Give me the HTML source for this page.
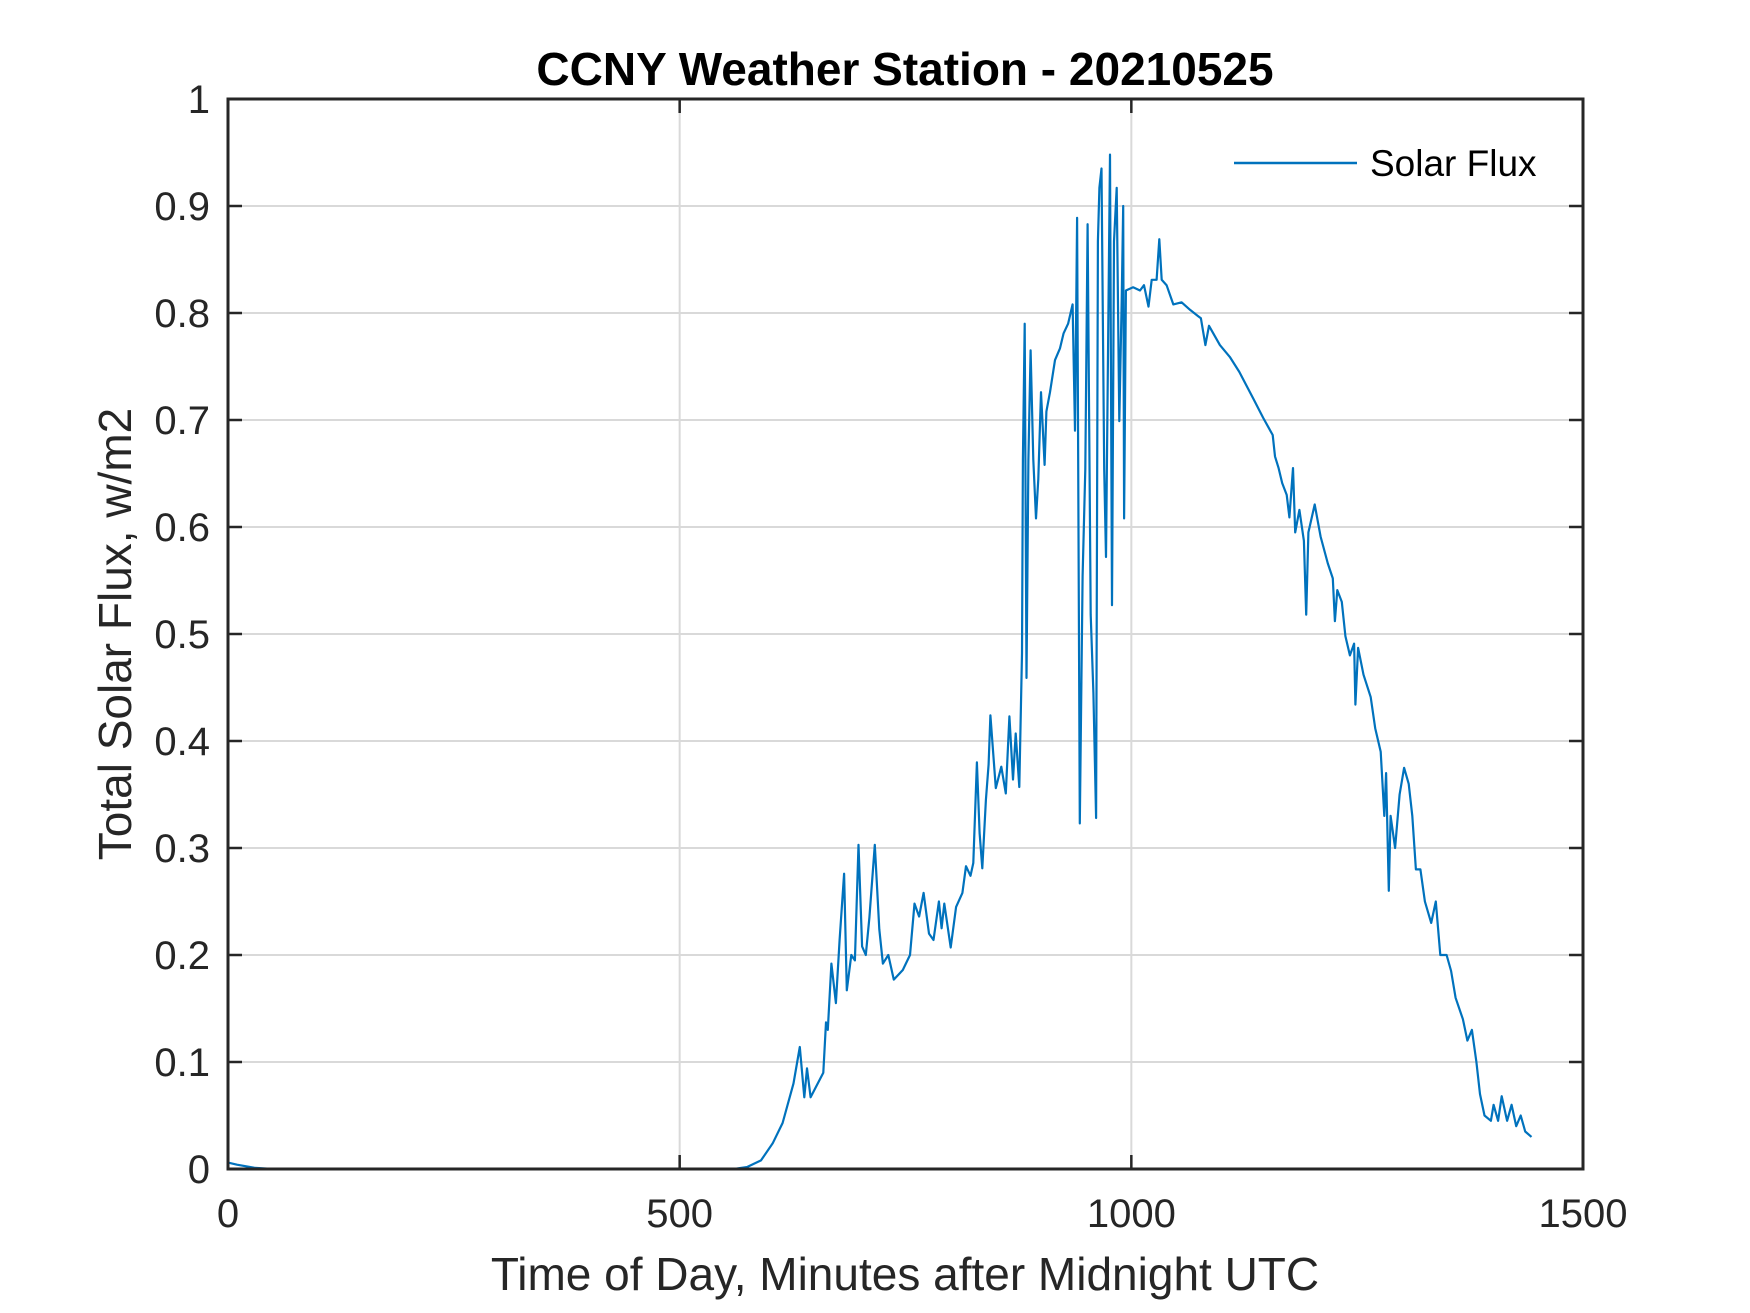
<!DOCTYPE html>
<html>
<head>
<meta charset="utf-8">
<style>
  html,body{margin:0;padding:0;background:#fff;}
  svg{display:block;}
  text{font-family:"Liberation Sans",Arial,sans-serif;fill:#262626;}
</style>
</head>
<body>
<svg id="chart" width="1750" height="1313" viewBox="0 0 1750 1313" xmlns="http://www.w3.org/2000/svg">
  <rect x="0" y="0" width="1750" height="1313" fill="#fff"/>
  <g id="grid"></g>
  <g id="series"></g>
  <rect x="228" y="99" width="1355" height="1070" fill="none" stroke="#262626" stroke-width="3"/>
  <g id="ticks"></g>
  <text x="905" y="85" font-size="46" font-weight="bold" text-anchor="middle" style="fill:#000">CCNY Weather Station - 20210525</text>
  <text x="905" y="1290" font-size="46" text-anchor="middle">Time of Day, Minutes after Midnight UTC</text>
  <text transform="translate(131,634) rotate(-90)" font-size="46" text-anchor="middle">Total Solar Flux, w/m2</text>
  <g>
    <line x1="1234" y1="163" x2="1357" y2="163" stroke="#0072BD" stroke-width="2.5"/>
    <text x="1370" y="176" font-size="37" style="fill:#000">Solar Flux</text>
  </g>
</svg>
<script>
const xTicks = [0, 500, 1000, 1500];
const yTicks = [0, 0.1, 0.2, 0.3, 0.4, 0.5, 0.6, 0.7, 0.8, 0.9, 1];
const yTickLabels = ["0","0.1","0.2","0.3","0.4","0.5","0.6","0.7","0.8","0.9","1"];
const minutes = [0,10,30,50,560,575,590,603,614,626,633,638,641,645,659,662,664,668,673,677,682,685,690,694,698,702,706,710,716,721,725,731,737,747,755,760,765,770,776,781,787,790,793,800,806,813,817,822,825,829,832,835,839,842,844,850,856,861,865,869,872,876,879,880,882,884,886,888.5,891.5,894.5,897,900,904,906,910,915.5,921,925,930,935,937.6,940,943,946,949,951.6,955,958,961,963,964.6,967,970,972,974.5,976.4,978.6,980.8,983.8,986.7,989.3,991,992,994,1002,1009.6,1014,1019,1022.5,1028,1031,1033.6,1039,1046.5,1055.7,1065,1074,1077,1082,1086,1098,1109,1119.5,1135,1146,1156.5,1159,1163,1167,1172,1175,1179,1181.4,1186,1191,1193.6,1196,1203,1209.5,1217.5,1223,1225.4,1228,1233,1237,1242,1246.6,1248,1251,1257,1265,1270,1276,1280,1282,1285,1287,1292,1297,1302,1307,1311,1315,1320,1325,1332,1337,1342,1349,1354,1359,1367,1372,1377,1382,1386,1391,1398,1401,1406,1410,1416,1421,1426,1431,1436,1443];
const flux = [0.006,0.004,0.001,0,0,0.002,0.008,0.024,0.043,0.08,0.114,0.067,0.094,0.067,0.09,0.137,0.13,0.192,0.155,0.214,0.276,0.167,0.2,0.195,0.303,0.208,0.2,0.235,0.303,0.224,0.192,0.2,0.177,0.186,0.2,0.248,0.236,0.258,0.22,0.214,0.25,0.225,0.248,0.207,0.245,0.258,0.283,0.274,0.286,0.38,0.314,0.281,0.345,0.378,0.424,0.356,0.376,0.351,0.423,0.364,0.407,0.357,0.482,0.663,0.79,0.459,0.663,0.765,0.663,0.608,0.645,0.726,0.658,0.708,0.726,0.756,0.767,0.781,0.79,0.808,0.69,0.889,0.323,0.554,0.654,0.883,0.518,0.445,0.328,0.867,0.917,0.935,0.654,0.572,0.79,0.948,0.527,0.867,0.917,0.699,0.812,0.9,0.608,0.821,0.824,0.821,0.826,0.806,0.831,0.831,0.869,0.831,0.826,0.808,0.81,0.803,0.797,0.795,0.77,0.788,0.77,0.759,0.745,0.72,0.702,0.686,0.666,0.655,0.641,0.63,0.609,0.655,0.595,0.616,0.587,0.518,0.595,0.621,0.591,0.566,0.552,0.512,0.541,0.53,0.498,0.48,0.491,0.434,0.487,0.462,0.441,0.412,0.39,0.33,0.37,0.26,0.33,0.3,0.35,0.375,0.36,0.33,0.28,0.28,0.25,0.23,0.25,0.2,0.2,0.185,0.16,0.14,0.12,0.13,0.1,0.07,0.05,0.045,0.06,0.045,0.068,0.045,0.06,0.04,0.05,0.035,0.03];

const NS = "http://www.w3.org/2000/svg";
const L = 228, R = 1583, T = 99, B = 1169;
const xMin = 0, xMax = 1500, yMin = 0, yMax = 1;
function xs(m){ return L + (m - xMin) / (xMax - xMin) * (R - L); }
function ys(v){ return B - (v - yMin) / (yMax - yMin) * (B - T); }
function mk(tag, attrs){ const e = document.createElementNS(NS, tag); for (const k in attrs) e.setAttribute(k, attrs[k]); return e; }

const grid = document.getElementById('grid');
const ticks = document.getElementById('ticks');
const series = document.getElementById('series');

xTicks.forEach(function(t){
  const x = xs(t);
  if (t > xMin && t < xMax) {
    const g = mk('line', {x1:x, y1:T, x2:x, y2:B, stroke:'#d9d9d9', 'stroke-width':2});
    
    
    grid.appendChild(g);
    const t1 = mk('line', {x1:x, y1:B, x2:x, y2:B-14, stroke:'#262626', 'stroke-width':2.5});
    
    
    ticks.appendChild(t1);
    const t2 = mk('line', {x1:x, y1:T, x2:x, y2:T+14, stroke:'#262626', 'stroke-width':2.5});
    
    
    ticks.appendChild(t2);
  }
  const lb = mk('text', {x:x, y:B+58, 'font-size':40, 'text-anchor':'middle'});
  lb.textContent = String(t);
  
  
  ticks.appendChild(lb);
});

yTicks.forEach(function(t, i){
  const y = ys(t);
  if (t > yMin && t < yMax) {
    const g = mk('line', {x1:L, y1:y, x2:R, y2:y, stroke:'#d9d9d9', 'stroke-width':2});
    
    
    grid.appendChild(g);
    const t1 = mk('line', {x1:L, y1:y, x2:L+14, y2:y, stroke:'#262626', 'stroke-width':2.5});
    
    
    ticks.appendChild(t1);
    const t2 = mk('line', {x1:R, y1:y, x2:R-14, y2:y, stroke:'#262626', 'stroke-width':2.5});
    
    
    ticks.appendChild(t2);
  }
  const lb = mk('text', {x:L-18, y:y+14, 'font-size':40, 'text-anchor':'end'});
  lb.textContent = yTickLabels[i];
  
  
  ticks.appendChild(lb);
});

let d = '';
minutes.forEach(function(m, i){ d += (i ? 'L' : 'M') + xs(m).toFixed(1) + ',' + ys(flux[i]).toFixed(1); });
const path = mk('path', {d:d, fill:'none', stroke:'#0072BD', 'stroke-width':2.2, 'stroke-linejoin':'round'});


series.appendChild(path);
</script>
</body>
</html>
